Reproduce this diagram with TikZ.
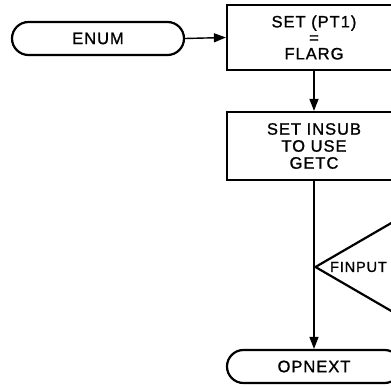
\documentclass[tikz,border=0pt]{standalone}
\usepackage{fontspec}
\setmainfont[LetterSpace=6, FakeBold=1.2]{Liberation Sans}
\usetikzlibrary{arrows.meta, shapes.misc, shapes.geometric}

\begin{document}
\begin{tikzpicture}[x=1pt, y=-1pt, >={Triangle[length=12pt, width=9pt]},
  every node/.style={align=center, font=\fontsize{16.5}{17}\selectfont},
  terminal/.style={draw, line width=2.2pt, rounded rectangle, minimum width=172pt, minimum height=33pt, inner sep=0pt},
  process/.style={draw, line width=2.2pt, rectangle, minimum width=174pt, inner sep=0pt},
  flow/.style={line width=1.4pt}]

\clip (0,0) rectangle (391,387);

% Nodes
\node[terminal] (enum) at (98,38.5) {ENUM};
\node[process, minimum height=65pt] (setpt) at (314,37.5) {SET (PT1)\\[-1pt]=\\[-1pt]FLARG};
\node[process, minimum height=68pt] (setin) at (314,146) {SET INSUB\\TO USE\\GETC};
\node[draw, line width=2.2pt, diamond, minimum width=220pt, minimum height=128pt, inner sep=0pt] (finput) at (425,267) {};
\node[anchor=west, inner sep=0pt, font=\fontsize{14.5}{15}\selectfont] (finputtext) at ([xshift=16pt]finput.west) {FINPUT};
\node[terminal, minimum width=174pt] (opnext) at (314,366.5) {OPNEXT};

% Edges
\draw[flow, ->] (enum.east) -- (setpt.west);
\draw[flow, ->] (setpt.south) -- (setin.north);
\draw[flow, ->] (setin.south) -- (opnext.north);

\end{tikzpicture}
\end{document}
